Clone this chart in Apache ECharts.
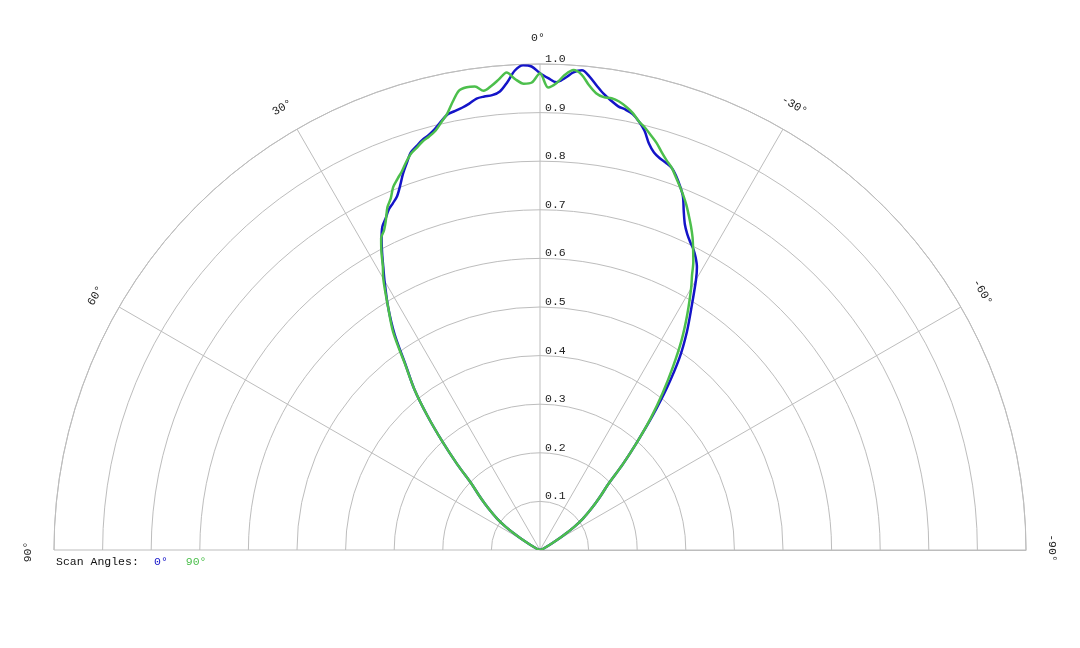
<!DOCTYPE html>
<html>
<head>
<meta charset="utf-8">
<script src="https://cdn.jsdelivr.net/npm/echarts@6/dist/echarts.min.js"></script>
<style>
  html, body { margin: 0; padding: 0; background: #fff; }
  #main { width: 1080px; height: 648px; }
</style>
</head>
<body>
<div id="main"></div>
<script>
// 扫描角度（度），从 90° 到 -90°
const angles = [
  90, 75, 67, 63, 60, 58, 56, 54, 52, 50, 48, 46, 44, 42, 40, 38, 36, 34, 32, 30,
  29, 28, 27, 26, 25, 24, 23, 22, 21, 20, 19, 18, 17, 16, 15, 14, 13, 12, 11, 10,
  9, 8, 7, 6, 5, 4, 3, 2, 1,
  0,
  -1, -2, -3, -4, -5, -6, -7, -8, -9, -10, -11, -12, -13, -14, -15, -16, -17, -18, -19, -20,
  -21, -22, -23, -24, -25, -26, -27, -28, -29,
  -30, -32, -34, -36, -38, -40, -42, -44, -46, -48, -50, -52, -54, -56, -58, -60, -63, -67, -75, -90
]

// 0° 扫描面的相对强度
const scan0 = [
  0, 0.002, 0.008, 0.018, 0.035, 0.058, 0.085, 0.108, 0.127, 0.148, 0.17, 0.195, 0.245, 0.30, 0.36, 0.42, 0.47, 0.535, 0.59, 0.64,
  0.665, 0.692, 0.718, 0.740, 0.752, 0.766, 0.775, 0.785, 0.803, 0.824, 0.842, 0.86, 0.869, 0.878, 0.884, 0.893, 0.905, 0.916, 0.920, 0.924,
  0.930, 0.938, 0.940, 0.941, 0.947, 0.965, 0.988, 0.998, 0.995,
  0.981,
  0.971, 0.963, 0.972, 0.985, 0.991, 0.979, 0.962, 0.947, 0.936, 0.927, 0.923, 0.917, 0.905, 0.889, 0.866, 0.851, 0.843, 0.838, 0.832, 0.819,
  0.803, 0.785, 0.757, 0.733, 0.717, 0.705, 0.695, 0.682, 0.666,
  0.642, 0.588, 0.540, 0.488, 0.425, 0.36, 0.298, 0.245, 0.195, 0.17, 0.148, 0.127, 0.108, 0.085, 0.058, 0.035, 0.018, 0.008, 0.002, 0
]

// 90° 扫描面的相对强度
const scan90 = [
  0, 0.002, 0.008, 0.018, 0.035, 0.058, 0.085, 0.108, 0.127, 0.148, 0.17, 0.195, 0.245, 0.30, 0.36, 0.42, 0.472, 0.54, 0.59, 0.645,
  0.667, 0.695, 0.72, 0.732, 0.75, 0.772, 0.786, 0.806, 0.818, 0.83, 0.845, 0.858, 0.866, 0.875, 0.881, 0.889, 0.903, 0.918, 0.94, 0.96,
  0.964, 0.963, 0.952, 0.96, 0.972, 0.985, 0.97, 0.96, 0.962,
  0.981,
  0.952, 0.961, 0.979, 0.99, 0.982, 0.962, 0.947, 0.941, 0.941, 0.937, 0.929, 0.919, 0.905, 0.895, 0.883, 0.871, 0.856, 0.843, 0.832, 0.817,
  0.802, 0.787, 0.771, 0.753, 0.735, 0.716, 0.694, 0.672, 0.645,
  0.622, 0.572, 0.521, 0.465, 0.41, 0.355, 0.298, 0.245, 0.195, 0.17, 0.148, 0.127, 0.108, 0.085, 0.058, 0.035, 0.018, 0.008, 0.002, 0
]

// 刻度标签
const angleTicks = [90, 60, 30, 0, -30, -60, -90]
const radiusTicks = [0.1, 0.2, 0.3, 0.4, 0.5, 0.6, 0.7, 0.8, 0.9, 1.0]
const seriesNames = ['0°', '90°']
const colors = ['#1414c8', '#4cbf4c']

const monoFont = "'Liberation Mono', 'Courier New', monospace"
const gridColor = '#bdbdbd'

// 组装成 [半径, 角度] 数据
function toPolar(values) {
  return values.map((v, i) => [v, angles[i]])
}

var myChart = echarts.init(document.getElementById('main'))

var option = {
  backgroundColor: '#fff',
  animation: false,
  title: {
    text: 'Scan Angles:',
    left: 56,
    top: 556,
    textStyle: { fontFamily: monoFont, fontSize: 11.5, fontWeight: 'normal', color: '#111' },
    padding: 0
  },
  legend: {
    left: 148,
    top: 556,
    padding: 0,
    itemWidth: 0,
    itemHeight: 0,
    itemGap: 12,
    selectedMode: false,
    itemStyle: { opacity: 0 },
    lineStyle: { opacity: 0 },
    textStyle: { fontFamily: monoFont, fontSize: 11.5 },
    data: seriesNames.map((n, i) => ({ name: n, textStyle: { color: colors[i] } }))
  },
  polar: {
    center: [540, 550],
    radius: 486
  },
  angleAxis: {
    type: 'value',
    min: -90,
    max: 90,
    interval: 30,
    startAngle: 0,
    endAngle: 180,
    clockwise: false,
    axisLine: { lineStyle: { color: gridColor, width: 1 } },
    axisTick: { show: false },
    axisLabel: { show: false },
    splitLine: { show: true, lineStyle: { color: gridColor, width: 1 } }
  },
  radiusAxis: {
    type: 'value',
    min: 0,
    max: 1,
    interval: 0.1,
    axisLine: { show: true, lineStyle: { color: gridColor, width: 1 } },
    axisTick: { show: false },
    axisLabel: { show: false },
    splitLine: { show: true, lineStyle: { color: gridColor, width: 1 } }
  },
  series: [
    {
      name: seriesNames[0],
      type: 'line',
      coordinateSystem: 'polar',
      showSymbol: false,
      smooth: 0.3,
      lineStyle: { color: colors[0], width: 2.5 },
      itemStyle: { color: colors[0] },
      data: toPolar(scan0)
    },
    {
      name: seriesNames[1],
      type: 'line',
      coordinateSystem: 'polar',
      showSymbol: false,
      smooth: 0.3,
      lineStyle: { color: colors[1], width: 2.5 },
      itemStyle: { color: colors[1] },
      data: toPolar(scan90)
    }
  ]
}

myChart.setOption(option)

// 角度标签沿圆周切向旋转，半径标签放在 0° 线右侧
let graphics = []
angleTicks.forEach(a => {
  let p = myChart.convertToPixel({ seriesIndex: 0 }, [1.0535, a])
  graphics.push({
    type: 'text',
    x: p[0] - 2 * Math.cos(a * Math.PI / 180),
    y: p[1] + 2 * Math.sin(a * Math.PI / 180),
    rotation: a * Math.PI / 180,
    style: { text: a + '°', align: 'center', verticalAlign: 'middle', font: '11.5px ' + monoFont, fill: '#222' }
  })
})
radiusTicks.forEach(r => {
  let p = myChart.convertToPixel({ seriesIndex: 0 }, [r, 0])
  graphics.push({
    type: 'text',
    x: p[0] + 5,
    y: p[1] + 1,
    style: { text: r.toFixed(1), align: 'left', verticalAlign: 'bottom', font: '11.5px ' + monoFont, fill: '#222' }
  })
})
myChart.setOption({ graphic: graphics })
</script>
</body>
</html>
